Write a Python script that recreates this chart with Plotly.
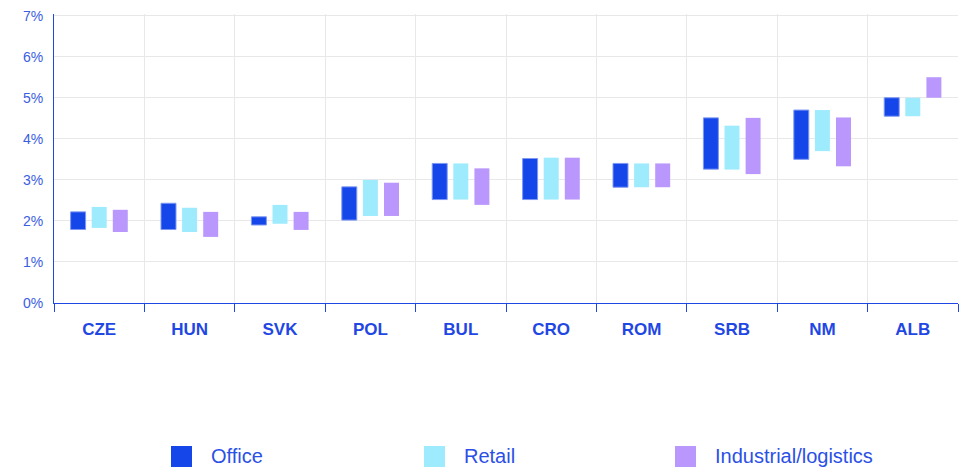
import plotly.graph_objects as go

countries = ["CZE", "HUN", "SVK", "POL", "BUL", "CRO", "ROM", "SRB", "NM", "ALB"]

office_low = [1.79, 1.79, 1.90, 2.02, 2.52, 2.52, 2.82, 3.26, 3.50, 4.55]
office_high = [2.22, 2.43, 2.10, 2.83, 3.40, 3.52, 3.40, 4.51, 4.70, 5.00]

retail_low = [1.83, 1.73, 1.93, 2.12, 2.52, 2.52, 2.82, 3.25, 3.70, 4.55]
retail_high = [2.34, 2.32, 2.39, 3.00, 3.40, 3.54, 3.40, 4.32, 4.70, 5.00]

indus_low = [1.73, 1.61, 1.78, 2.12, 2.39, 2.52, 2.82, 3.14, 3.33, 5.00]
indus_high = [2.27, 2.22, 2.22, 2.93, 3.28, 3.54, 3.40, 4.51, 4.52, 5.50]

tick_vals = [0, 1, 2, 3, 4, 5, 6, 7]
tick_text = ["0%", "1%", "2%", "3%", "4%", "5%", "6%", "7%"]

series_names = ["Office", "Retail", "Industrial/logistics"]
series_colors = ["#1446EA", "#9DEBFC", "#BA97FC"]

series = [
    (series_names[0], office_low, office_high, series_colors[0], "#7E98F2", 1),
    (series_names[1], retail_low, retail_high, series_colors[1], series_colors[1], 0),
    (series_names[2], indus_low, indus_high, series_colors[2], series_colors[2], 0),
]

W, H = 962, 468
ML, MR, MT, MB = 54, 4, 14, 165
PW, PH = W - ML - MR, H - MT - MB

def px2x(px):
    return (px - ML) / PW

def py2y(py):
    return (H - MB - py) / PH

fig = go.Figure()
for name, lo, hi, col, lcol, lw in series:
    fig.add_trace(go.Bar(
        name=name,
        x=countries,
        base=lo,
        y=[h - l for h, l in zip(hi, lo)],
        marker=dict(color=col, line=dict(color=lcol, width=lw)),
        showlegend=False,
    ))

# Manual legend (large square swatches like the reference)
swatch_left = [171, 424, 675]
text_left = [209, 462, 713]
shapes = []
annotations = []
for i, name in enumerate(series_names):
    shapes.append(dict(
        type="rect", xref="paper", yref="paper",
        x0=px2x(swatch_left[i]), x1=px2x(swatch_left[i] + 21),
        y0=py2y(467), y1=py2y(446),
        fillcolor=series_colors[i], line=dict(width=0),
    ))
    annotations.append(dict(
        text=name, xref="paper", yref="paper",
        x=px2x(text_left[i]), y=py2y(456),
        xanchor="left", yanchor="middle", showarrow=False,
        font=dict(family="Liberation Sans", size=20, color="#2B50E6"),
    ))

blue = "#1F47E4"
fig.update_layout(
    width=W, height=H,
    margin=dict(l=ML, r=MR, t=MT, b=MB),
    paper_bgcolor="white", plot_bgcolor="white",
    barmode="group", bargap=0.30, bargroupgap=0.29,
    font=dict(family="Liberation Sans", color=blue),
    showlegend=False,
    shapes=shapes,
    annotations=annotations,
    xaxis=dict(
        type="category",
        tickson="boundaries",
        ticks="outside", ticklen=8, tickcolor=blue, tickwidth=1,
        showline=True, linecolor=blue, linewidth=1,
        showgrid=True, gridcolor="#E8E8E8", gridwidth=1,
        tickfont=dict(size=17, color=blue, family="Liberation Sans", weight="bold"),
        ticklabelstandoff=11,
        automargin=False,
    ),
    yaxis=dict(
        range=[0, 7.04],
        tickvals=tick_vals,
        ticktext=tick_text,
        showline=True, linecolor=blue, linewidth=1,
        showgrid=True, gridcolor="#E8E8E8", gridwidth=1,
        zeroline=False,
        tickfont=dict(size=14, color="#3A5DE2", family="Liberation Sans"),
        ticks="", ticklabelstandoff=7,
        automargin=False,
    ),
)

fig.write_html("out.html", config={"displayModeBar": False},
               post_script="document.body.style.margin='0';")
